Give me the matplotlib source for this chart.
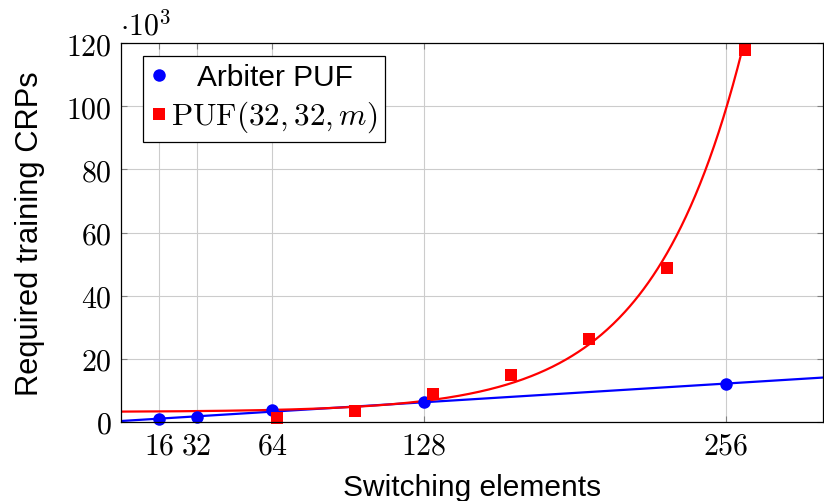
import numpy as np
import matplotlib
matplotlib.use("Agg")
import matplotlib.pyplot as plt
from matplotlib.lines import Line2D

# ---- data (CRPs in thousands) ----
arbiter_x = [16, 32, 64, 128, 256]
arbiter_y = [0.76, 1.6, 3.6, 6.1, 12.05]

puf_x = [66, 99, 132, 165, 198, 231, 264]
puf_y = [1.27, 3.5, 8.8, 14.9, 26.2, 48.7, 117.8]

# exponential trend fit for PUF(32,32,m): a + b*exp(c*x)
fit_a, fit_b, fit_c = 3.073, 0.127, 0.0259

x_ticks = [16, 32, 64, 128, 256]
y_ticks = [0, 20, 40, 60, 80, 100, 120]

plt.rcParams['font.family'] = ['Liberation Sans', 'DejaVu Sans']
plt.rcParams['mathtext.fontset'] = 'cm'

FS = 21.5
BLUE = '#0000ff'
RED = '#ff0000'

fig = plt.figure(figsize=(8.24, 5.02), dpi=100)
ax = fig.add_axes([121 / 824, 1 - 422.7 / 502, (823 - 121) / 824, (422.7 - 44.3) / 502])

xmin, xmax = 0, 297
ax.set_xlim(xmin, xmax)
ax.set_ylim(0, 120)

# trend lines
bcoef = np.polyfit(arbiter_x, arbiter_y, 1)
xs = np.linspace(xmin, xmax, 600)
ax.plot(xs, np.polyval(bcoef, xs), color=BLUE, lw=1.6, zorder=3)
ax.plot(xs, fit_a + fit_b * np.exp(fit_c * xs), color=RED, lw=1.6, zorder=3)

# markers
MS = 9.0
ax.plot(arbiter_x, arbiter_y, linestyle='none', marker='o', ms=MS,
        color=BLUE, mew=0, zorder=4, clip_on=False)
ax.plot(puf_x, puf_y, linestyle='none', marker='s', ms=MS - 0.4,
        color=RED, mew=0, zorder=4, clip_on=False)

# ticks
ax.set_xticks(x_ticks)
ax.set_xticklabels([f"${v}$" for v in x_ticks], fontsize=FS)
ax.set_yticks(y_ticks)
ax.set_yticklabels([f"${v}$" for v in y_ticks], fontsize=FS)
ax.tick_params(direction='in', length=4, width=0.8, color='#808080',
               top=True, right=True, pad=7)
ax.grid(True, color='#cccccc', lw=0.8)
ax.set_axisbelow(True)
for s in ax.spines.values():
    s.set_color('black')
    s.set_linewidth(0.9)
    s.set_zorder(5)

ax.set_xlabel("Switching elements", fontsize=FS, labelpad=10)
ax.set_ylabel("Required training CRPs", fontsize=22.2, labelpad=15)

ax.annotate(r"$\cdot 10^3$", xy=(0, 1), xycoords='axes fraction',
            xytext=(-1, 6.5), textcoords='offset points',
            ha='left', va='baseline', fontsize=FS)

# legend
handles = [
    Line2D([], [], linestyle='none', marker='o', ms=MS, color=BLUE, mew=0),
    Line2D([], [], linestyle='none', marker='s', ms=MS - 0.4, color=RED, mew=0),
]
labels = ["Arbiter PUF", r"$\mathrm{PUF}(32,32,m)$"]
leg = ax.legend(handles, labels, loc='upper left',
                bbox_to_anchor=((143 - 121) / 702, (422.7 - 57) / 378.4),
                fontsize=FS, frameon=True, fancybox=False, framealpha=1,
                edgecolor='black', handlelength=0.55, handletextpad=0.15,
                borderpad=0.25, labelspacing=0.25, borderaxespad=0)
leg.get_texts()[1].set_fontsize(22.5)
leg.get_frame().set_linewidth(0.9)
leg.set_zorder(6)

# center the legend texts within their column (pgfplots style)
fig.canvas.draw()
r = fig.canvas.get_renderer()
texts = leg.get_texts()
w0 = texts[0].get_window_extent(r).width
w1 = texts[1].get_window_extent(r).width
rows = leg._legend_handle_box.get_children()[0].get_children()
rows[0].sep += (w1 - w0) / 2 * 72 / fig.dpi

fig.savefig("out.png", dpi=100)
